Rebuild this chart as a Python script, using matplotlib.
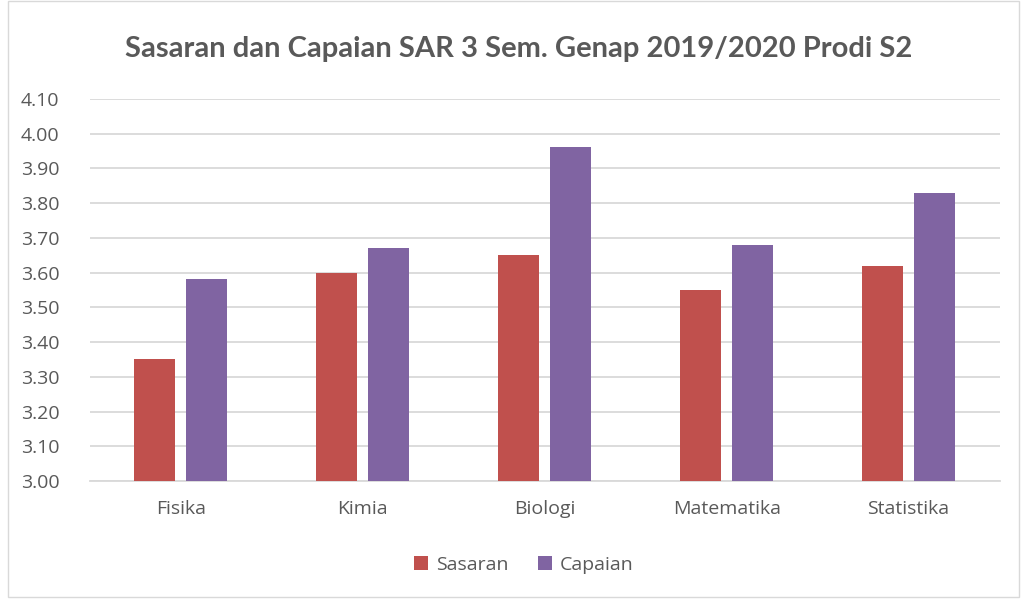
import matplotlib.pyplot as plt
import numpy as np
from matplotlib.patches import Rectangle

# data
categories = ["Fisika", "Kimia", "Biologi", "Matematika", "Statistika"]
sasaran = [3.35, 3.60, 3.65, 3.55, 3.62]
capaian = [3.58, 3.67, 3.96, 3.68, 3.83]
yticks = [3.00, 3.10, 3.20, 3.30, 3.40, 3.50, 3.60, 3.70, 3.80, 3.90, 4.00, 4.10]

text_color = "#595959"
plt.rcParams["font.family"] = ["Open Sans", "DejaVu Sans"]

fig = plt.figure(figsize=(10.21, 5.99), dpi=100)
ax = fig.add_axes([0.088, 0.197, 0.891, 0.638])

x = np.arange(len(categories))
w = 0.225
ax.bar(x - 0.143, sasaran, w, color="#C0504D", label="Sasaran", zorder=3)
ax.bar(x + 0.143, capaian, w, color="#8064A2", label="Capaian", zorder=3)

ax.set_xlim(-0.5, len(categories) - 0.5)
ax.set_ylim(3.0, 4.1)
ax.set_yticks(yticks)
ax.set_yticklabels(["%.2f" % v for v in yticks])
ax.set_xticks(x)
ax.set_xticklabels(categories)
ax.tick_params(axis="both", length=0, labelsize=14, colors=text_color)
ax.tick_params(axis="y", pad=22)
ax.tick_params(axis="x", pad=14)
ax.grid(axis="y", color="#D9D9D9", linewidth=1.3, zorder=0)
for s in ["top", "right", "left"]:
    ax.spines[s].set_visible(False)
ax.spines["bottom"].set_color("#D9D9D9")
ax.spines["bottom"].set_linewidth(1.3)

fig.text(0.508, 0.918, "Sasaran dan Capaian SAR 3 Sem. Genap 2019/2020 Prodi S2",
         ha="center", va="center", fontsize=21, fontweight="bold", color=text_color,
         family=["Lato", "DejaVu Sans"])

leg = fig.legend(loc="center", bbox_to_anchor=(0.513, 0.057), ncol=2, frameon=False,
                 fontsize=14, handlelength=0.75, handleheight=0.75, columnspacing=1.5,
                 handletextpad=0.4)
for t in leg.get_texts():
    t.set_color(text_color)

# outer chart border
fig.patches.append(Rectangle((0.008, 0.004), 0.99, 0.994, transform=fig.transFigure,
                             fill=False, edgecolor="#D9D9D9", linewidth=1))

fig.savefig("out.png", dpi=100)
